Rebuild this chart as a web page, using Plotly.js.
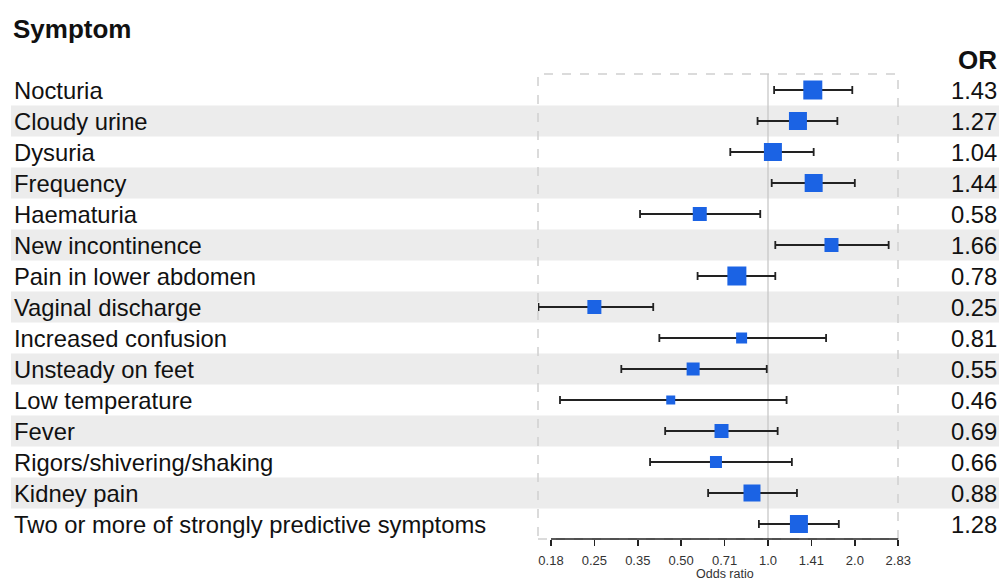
<!DOCTYPE html>
<html>
<head>
<meta charset="utf-8">
<script src="https://cdn.plot.ly/plotly-3.0.1.min.js"></script>
<style>html,body{margin:0;padding:0;background:#fff}#chart{width:999px;height:581px}</style>
</head>
<body>
<div id="chart"></div>
<script>
const symptoms = ["Nocturia","Cloudy urine","Dysuria","Frequency","Haematuria","New incontinence","Pain in lower abdomen","Vaginal discharge","Increased confusion","Unsteady on feet","Low temperature","Fever","Rigors/shivering/shaking","Kidney pain","Two or more of strongly predictive symptoms"];
const oddsRatio = [1.43,1.27,1.04,1.44,0.58,1.66,0.78,0.25,0.81,0.55,0.46,0.69,0.66,0.88,1.28];
const ciLow  = [1.05,0.92,0.74,1.03,0.36,1.06,0.57,0.16,0.42,0.31,0.19,0.44,0.39,0.62,0.93];
const ciHigh = [1.96,1.74,1.44,2.00,0.94,2.62,1.06,0.40,1.59,0.99,1.16,1.08,1.21,1.26,1.76];
const weight = [19,18,18,18,14,14,19,14,11,13,9,14,12,17,18];
const orLabels = ["1.43","1.27","1.04","1.44","0.58","1.66","0.78","0.25","0.81","0.55","0.46","0.69","0.66","0.88","1.28"];
const tickVals = [0.1768,0.25,0.3536,0.5,0.7071,1,1.4142,2,2.8284];
const tickText = ["0.18","0.25","0.35","0.50","0.71","1.0","1.41","2.0","2.83"];

const W = 999, H = 581;
const rowIdx = symptoms.map((_, i) => i);
const FONT = "Liberation Sans, Arial, sans-serif";

// pixel helpers for layout
const rowTop = 90, rowStep = 31;
const yTopIdx = -rowTop / rowStep;
const yBotIdx = (H - rowTop) / rowStep;
const pyPaper = p => 1 - p / H;
const pxPaper = p => p / W;
const x1px = 768, pxPerDec = 288.4;
const xL = 538, xR = 900;
const xRange = [-(x1px - xL) / pxPerDec, (xR - x1px) / pxPerDec];

const shapes = [];
rowIdx.forEach(i => {
  if (i % 2 === 1) {
    shapes.push({type:'rect', xref:'paper', yref:'y', x0:pxPaper(11), x1:1, y0:i-0.5, y1:i+0.5,
      fillcolor:'#ececec', line:{width:0}, layer:'below'});
  }
});
// dashed box
shapes.push({type:'rect', xref:'paper', yref:'paper', x0:pxPaper(538), x1:pxPaper(898),
  y0:pyPaper(539), y1:pyPaper(74), line:{color:'#cfcfcf', width:1.5, dash:'dash'}, layer:'below'});
// reference line at 1
shapes.push({type:'line', xref:'x', yref:'paper', x0:1, x1:1, y0:pyPaper(539), y1:pyPaper(74),
  line:{color:'#c8c8c8', width:1.3}, layer:'below'});
// axis line
shapes.push({type:'line', xref:'x', yref:'paper', x0:tickVals[0], x1:tickVals[tickVals.length-1],
  y0:pyPaper(539), y1:pyPaper(539), line:{color:'#222', width:1.5}});

const annotations = [];
rowIdx.forEach(i => {
  annotations.push({xref:'paper', yref:'y', x:pxPaper(12), y:i, xanchor:'left', yanchor:'middle',
    text:symptoms[i], showarrow:false, font:{family:FONT, size:23.8, color:'#111'}});
  annotations.push({xref:'paper', yref:'y', x:pxPaper(999), y:i, xanchor:'right', yanchor:'middle',
    text:orLabels[i], showarrow:false, font:{family:FONT, size:23.8, color:'#111'}});
});
annotations.push({xref:'paper', yref:'paper', x:pxPaper(11), y:pyPaper(29), xanchor:'left', yanchor:'middle',
  text:'<b>Symptom</b>', showarrow:false, font:{family:FONT, size:26, color:'#111'}});
annotations.push({xref:'paper', yref:'paper', x:pxPaper(999), y:pyPaper(60), xanchor:'right', yanchor:'middle',
  text:'<b>OR</b>', showarrow:false, font:{family:FONT, size:26, color:'#111'}});
annotations.push({xref:'paper', yref:'paper', x:pxPaper(725), y:pyPaper(574), xanchor:'center', yanchor:'middle',
  text:'Odds ratio', showarrow:false, borderpad:0, font:{family:FONT, size:12.5, color:'#333'}});

const trace = {
  type:'scatter', mode:'markers',
  x: oddsRatio, y: rowIdx,
  marker:{symbol:'square', size:weight, color:'#1b63e4', opacity:1, line:{width:0}},
  error_x:{type:'data', symmetric:false,
    array: oddsRatio.map((v, i) => ciHigh[i] - v),
    arrayminus: oddsRatio.map((v, i) => v - ciLow[i]),
    color:'#222', thickness:1.8, width:4},
  hoverinfo:'skip', showlegend:false, cliponaxis:false
};

const layout = {
  width:W, height:H, margin:{l:0, r:0, t:0, b:0},
  paper_bgcolor:'#fff', plot_bgcolor:'rgba(0,0,0,0)',
  xaxis:{type:'log', domain:[pxPaper(xL), pxPaper(xR)], range:xRange,
    anchor:'free', position:pyPaper(539),
    tickvals:tickVals, ticktext:tickText, ticks:'outside', ticklen:6, tickwidth:1.5, tickcolor:'#222',
    ticklabelstandoff:3,
    tickfont:{family:FONT, size:13, color:'#333'},
    showgrid:false, zeroline:false, showline:false, fixedrange:true},
  yaxis:{domain:[0,1], range:[yBotIdx, yTopIdx], visible:false, fixedrange:true},
  shapes, annotations
};

Plotly.newPlot('chart', [trace], layout, {staticPlot:true, displayModeBar:false});
</script>
</body>
</html>
